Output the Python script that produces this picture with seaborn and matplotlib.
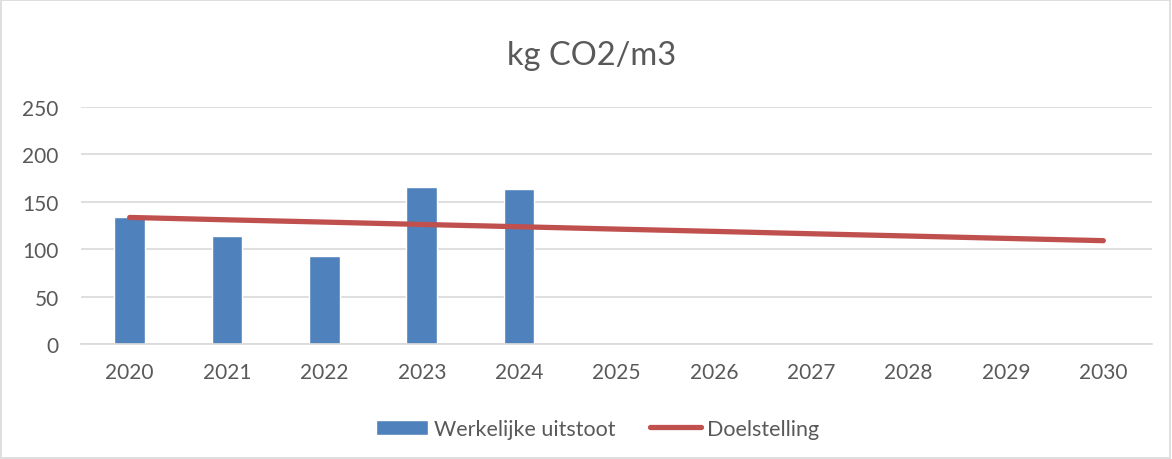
import numpy as np
import pandas as pd
import seaborn as sns
import matplotlib.pyplot as plt
from matplotlib.patches import Rectangle

# data
jaren = ['2020', '2021', '2022', '2023', '2024', '2025', '2026', '2027', '2028', '2029', '2030']
jaren_werkelijk = ['2020', '2021', '2022', '2023', '2024']
werkelijke_uitstoot = [134, 114, 93, 166, 164]
doelstelling = [133.5, 131.0, 128.6, 126.1, 123.7, 121.2, 118.8, 116.3, 113.9, 111.4, 109.0]

blauw = '#4F81BD'
rood = '#C0504D'
grijs = '#595959'

sns.set_theme(style='white')
plt.rcParams['font.family'] = ['Lato', 'DejaVu Sans']

fig = plt.figure(figsize=(11.72, 4.6), dpi=100)
ax = fig.add_axes([81 / 1172, 1 - 345 / 460, 1071 / 1172, 237 / 460])

df_bar = pd.DataFrame({'Jaar': jaren_werkelijk, 'Waarde': werkelijke_uitstoot})
sns.barplot(data=df_bar, x='Jaar', y='Waarde', order=jaren, color=blauw,
            width=0.315, saturation=1, ax=ax, label='Werkelijke uitstoot', zorder=2)

df_lijn = pd.DataFrame({'pos': np.arange(len(jaren)), 'Waarde': doelstelling})
sns.lineplot(data=df_lijn, x='pos', y='Waarde', color=rood, linewidth=3.8,
             solid_capstyle='round', ax=ax, label='Doelstelling', zorder=3)

ax.set_xlim(-0.5, len(jaren) - 0.5)
ax.set_ylim(0, 250)
ax.set_yticks([0, 50, 100, 150, 200, 250])
ax.set_xticks(range(len(jaren)))
ax.set_xticklabels(jaren)
ax.yaxis.grid(True, color='#D9D9D9', linewidth=1.2, zorder=0)
ax.set_axisbelow(True)
for s in ['top', 'right', 'left']:
    ax.spines[s].set_visible(False)
ax.spines['bottom'].set_color('#D9D9D9')
ax.spines['bottom'].set_linewidth(1.2)
ax.tick_params(axis='both', length=0, labelsize=15, colors=grijs)
ax.tick_params(axis='x', pad=13)
ax.tick_params(axis='y', pad=16)
ax.set_xlabel('')
ax.set_ylabel('')
ax.get_legend().remove()

fig.text(0.505, 1 - 56 / 460, 'kg CO2/m3', ha='center', va='center', fontsize=23.5, color=grijs)

handles, labels = ax.get_legend_handles_labels()
volgorde = [labels.index('Werkelijke uitstoot'), labels.index('Doelstelling')]
fig.legend([handles[i] for i in volgorde], [labels[i] for i in volgorde],
           loc='center', bbox_to_anchor=(0.51, 1 - 430 / 460), ncol=2,
           frameon=False, fontsize=15.5, handlelength=2.4, handletextpad=0.28,
           columnspacing=1.6, labelcolor=grijs)

fig.patches.append(Rectangle((0.001, 0.002), 0.997, 0.995, transform=fig.transFigure,
                             fill=False, edgecolor='#D9D9D9', linewidth=1.2))

fig.savefig('out.png', dpi=100)
